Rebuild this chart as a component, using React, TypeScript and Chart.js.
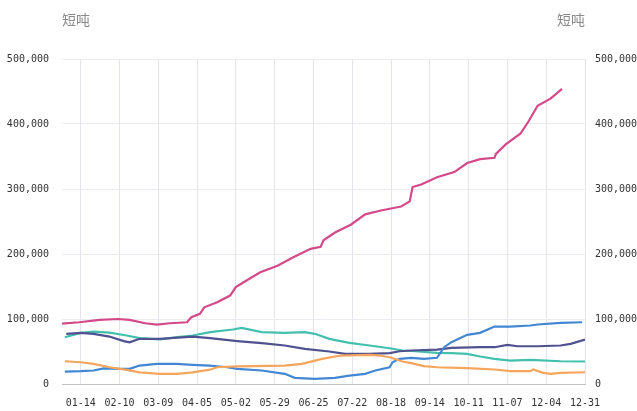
import React, { useEffect, useRef } from "react";
import { Chart, registerables } from "chart.js";

Chart.register(...registerables);

// x positions are day-of-year indices (0 = 01-01, 364 = 12-31)
const tickDays = [13, 40, 67, 94, 121, 148, 175, 202, 229, 256, 283, 310, 337, 364];
const tickLabels = ["01-14", "02-10", "03-09", "04-05", "05-02", "05-29", "06-25", "07-22", "08-18", "09-14", "10-11", "11-07", "12-04", "12-31"];
const yTitle = "短吨";

// values in thousands of short tons
const pinkDays = [0, 12, 26, 39, 47, 58, 66, 75, 87, 90, 96, 99, 108, 117, 121, 129, 138, 150, 161, 173, 180, 182, 190, 201, 211, 222, 236, 242, 244, 250, 261, 273, 282, 291, 301, 302, 309, 319, 325, 331, 340, 348];
const pinkValues = [93, 95, 98.7, 100, 98.7, 93.5, 91.5, 93.5, 95, 102.7, 108, 118, 125.8, 136, 149, 160, 172, 182, 195, 208, 211, 221, 233, 245, 261, 267, 273, 281, 303, 307, 318, 326, 340, 346, 348, 354, 369, 385, 405, 428, 439, 454];

const tealDays = [2, 13, 22, 33, 45, 54, 68, 80, 91, 103, 119, 125, 139, 155, 169, 176, 186, 200, 214, 228, 237, 246, 261, 271, 282, 291, 301, 312, 326, 347, 364];
const tealValues = [72, 78.7, 80.7, 79, 74.6, 70.5, 68.5, 72, 74.6, 79.7, 83.8, 86.4, 79.7, 78.7, 79.7, 77.2, 69.5, 63.4, 59.2, 55, 51.5, 50.4, 48, 47.4, 46.4, 42.3, 38.7, 36.1, 37.2, 35, 34.6];

const navyDays = [3, 13, 22, 33, 43, 47, 54, 68, 91, 103, 122, 139, 155, 169, 186, 197, 214, 228, 235, 243, 261, 271, 291, 301, 310, 317, 331, 347, 354, 364];
const navyValues = [77, 78.7, 77, 73, 66, 64, 69.5, 69.5, 73, 70.5, 66, 62.8, 59.2, 54, 50, 46.4, 46.4, 47.4, 50.4, 51.5, 53, 55.6, 56.6, 56.6, 60.2, 58.1, 58.1, 59.2, 61.8, 68.4];

const orangeDays = [2, 13, 22, 33, 45, 54, 68, 80, 91, 103, 108, 122, 155, 167, 181, 194, 214, 221, 228, 237, 243, 252, 261, 282, 301, 312, 326, 328, 335, 340, 347, 364];
const orangeValues = [35, 33.5, 31, 25.8, 21.8, 18, 15.7, 15.7, 18, 22, 25.8, 27, 28.4, 31, 38.7, 43.8, 44.9, 43.8, 41.2, 34.6, 32, 27.4, 25.8, 24.3, 22.3, 19.7, 19.7, 22.3, 17.2, 15.7, 17.2, 18.1];

const blueDays = [2, 13, 22, 29, 40, 47, 54, 66, 80, 91, 103, 115, 122, 139, 155, 162, 176, 190, 200, 211, 218, 228, 230, 235, 243, 252, 261, 266, 271, 282, 291, 301, 312, 326, 331, 347, 362];
const blueValues = [19, 19.7, 20.8, 24, 23.4, 23.4, 28.4, 31, 31, 29.5, 28.4, 25.8, 23.4, 20.8, 15.7, 9.5, 8, 9.5, 13, 15.7, 20.8, 25.8, 33.5, 38.7, 40.3, 38.7, 40.3, 56.6, 64.3, 75.7, 78.7, 88.4, 88.4, 90, 91.5, 94, 95];

const TICK_FONT = "'DejaVu Sans Mono', 'Liberation Mono', monospace";
const TITLE_FONT = "'Noto Sans CJK SC', 'Noto Sans', sans-serif";

function toPoints(days: number[], values: number[]) {
  return days.map((d, i) => ({ x: d, y: values[i] * 1000 }));
}

const titlePlugin = {
  id: "unitTitles",
  afterDraw(chart: any) {
    const { ctx, chartArea } = chart;
    ctx.save();
    ctx.font = `14px ${TITLE_FONT}`;
    ctx.fillStyle = "#8a8a8a";
    ctx.textBaseline = "middle";
    ctx.textAlign = "left";
    ctx.fillText(yTitle, chartArea.left, 20);
    ctx.textAlign = "right";
    ctx.fillText(yTitle, chartArea.right, 20);
    ctx.restore();
  },
};

export default function App() {
  const ref = useRef<HTMLCanvasElement>(null);

  useEffect(() => {
    if (!ref.current) return;
    const fmt = (v: any) => Number(v).toLocaleString("en-US");
    const mk = (days: number[], vals: number[], color: string) => ({
      data: toPoints(days, vals),
      borderColor: color,
      backgroundColor: color,
      borderWidth: 2.2,
      pointRadius: 0,
      tension: 0,
      yAxisID: "y",
    });
    const tickFont = { family: TICK_FONT, size: 10 };
    const chart = new Chart(ref.current, {
      type: "line",
      data: {
        datasets: [
          mk(orangeDays, orangeValues, "#f5a55c"),
          mk(blueDays, blueValues, "#4287d3"),
          mk(navyDays, navyValues, "#50528f"),
          mk(tealDays, tealValues, "#43c0ad"),
          mk(pinkDays, pinkValues, "#d4498a"),
        ],
      },
      options: {
        animation: false,
        responsive: false,
        maintainAspectRatio: false,
        layout: { padding: { left: 0, right: 0, top: 59, bottom: 0 } },
        plugins: { legend: { display: false }, tooltip: { enabled: false } },
        scales: {
          x: {
            type: "linear",
            min: 0,
            max: 364,
            afterBuildTicks: (scale: any) => {
              scale.ticks = tickDays.map((v) => ({ value: v }));
            },
            afterFit: (scale: any) => {
              scale.height = 27;
            },
            ticks: {
              autoSkip: false,
              maxRotation: 0,
              padding: 13,
              color: "#333",
              font: tickFont,
              callback: (_v: any, i: number) => tickLabels[i],
            },
            grid: { color: "#e4e4ee", drawTicks: false },
            border: { color: "#c4c4c4", width: 1 },
          },
          y: {
            position: "left",
            min: 0,
            max: 500000,
            afterFit: (scale: any) => {
              scale.width = 62;
            },
            ticks: {
              stepSize: 100000,
              padding: 13,
              color: "#333",
              font: tickFont,
              callback: fmt,
            },
            grid: { color: "#ebebf1", drawTicks: false },
            border: { display: false },
          },
          y2: {
            position: "right",
            min: 0,
            max: 500000,
            afterFit: (scale: any) => {
              scale.width = 52;
            },
            ticks: {
              stepSize: 100000,
              padding: 10,
              color: "#333",
              font: tickFont,
              callback: fmt,
            },
            grid: { display: false, drawTicks: false },
            border: { display: false },
          },
        },
      } as any,
      plugins: [titlePlugin],
    });
    return () => chart.destroy();
  }, []);

  return (
    <div style={{ position: "fixed", left: 0, top: 0, width: 637, height: 411, background: "#fff" }}>
      <canvas ref={ref} width={637} height={411} style={{ display: "block" }} />
    </div>
  );
}
